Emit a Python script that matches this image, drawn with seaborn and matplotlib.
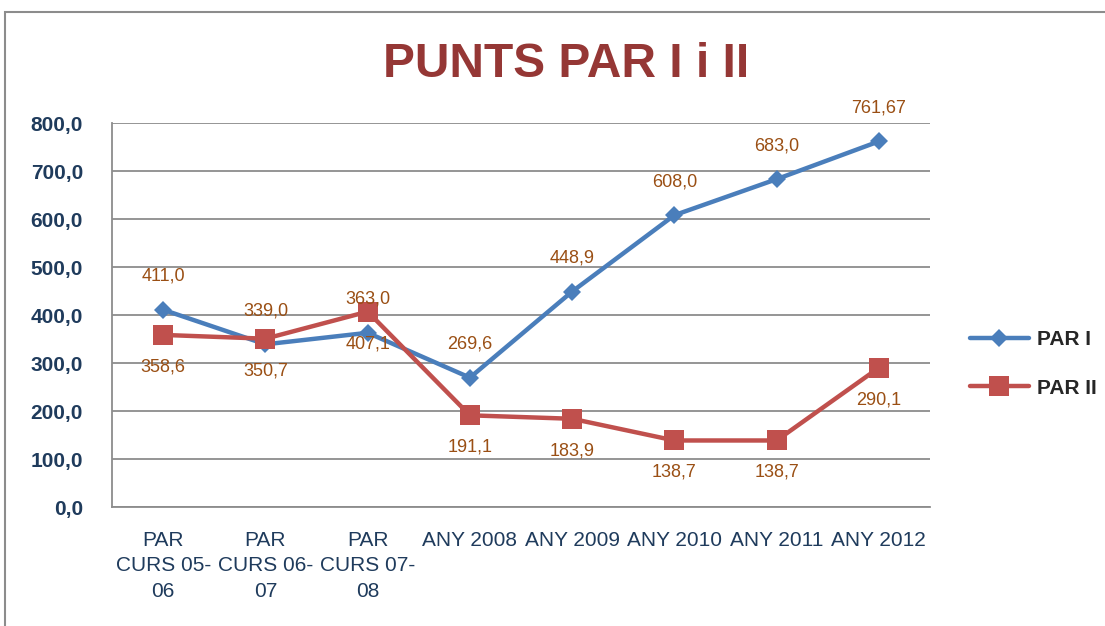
import pandas as pd
import seaborn as sns
import matplotlib.pyplot as plt
from matplotlib.patches import Rectangle

# Data
categories = ['PAR\nCURS 05-\n06', 'PAR\nCURS 06-\n07', 'PAR\nCURS 07-\n08',
              'ANY 2008', 'ANY 2009', 'ANY 2010', 'ANY 2011', 'ANY 2012']
par1 = [411.0, 339.0, 363.0, 269.6, 448.9, 608.0, 683.0, 761.67]
par2 = [358.6, 350.7, 407.1, 191.1, 183.9, 138.7, 138.7, 290.1]
par1_labels = ['411,0', '339,0', '363,0', '269,6', '448,9', '608,0', '683,0', '761,67']
par2_labels = ['358,6', '350,7', '407,1', '191,1', '183,9', '138,7', '138,7', '290,1']
y_ticks = [0, 100, 200, 300, 400, 500, 600, 700, 800]

df = pd.DataFrame({
    'cat': categories * 2,
    'valor': par1 + par2,
    'serie': ['PAR I'] * len(par1) + ['PAR II'] * len(par2),
})

sns.set_style("white")
plt.rcParams['font.family'] = ['Liberation Sans', 'DejaVu Sans']

navy = '#1f3b5c'
label_col = '#9a4f14'
grid_col = '#8c8c8c'

fig = plt.figure(figsize=(11.05, 6.26), dpi=100)
ax = fig.add_axes([0.1014, 0.190, 0.7402, 0.6135])

sns.lineplot(data=df, x='cat', y='valor', hue='serie', style='serie',
             palette={'PAR I': '#4a7ebb', 'PAR II': '#c0504d'},
             markers={'PAR I': 'D', 'PAR II': 's'}, dashes=False,
             linewidth=3.2, legend=False, sort=False, ax=ax)

for line in ax.get_lines():
    line.set_markeredgewidth(0)
    if line.get_marker() == 'D':
        line.set_markersize(9)
    else:
        line.set_markersize(14)

# data labels
for i, (v, t) in enumerate(zip(par1, par1_labels)):
    ax.annotate(t, (i, v), xytext=(0, 24), textcoords='offset points',
                ha='center', va='center', fontsize=13, color=label_col)
for i, (v, t) in enumerate(zip(par2, par2_labels)):
    ax.annotate(t, (i, v), xytext=(0, -23), textcoords='offset points',
                ha='center', va='center', fontsize=13, color=label_col)

ax.set_ylim(0, 800)
ax.set_xlim(-0.5, len(categories) - 0.5)
ax.set_yticks(y_ticks)
ax.set_yticklabels([f'{v:.1f}'.replace('.', ',') for v in y_ticks],
                   fontsize=15, fontweight='bold', color=navy)
ax.set_xticks(range(len(categories)))
ax.set_xticklabels(categories, fontsize=15, color=navy, linespacing=1.45)
ax.set_xticks([i - 0.5 for i in range(len(categories) + 1)], minor=True)
ax.tick_params(axis='x', which='major', length=0, pad=17)
ax.tick_params(axis='x', which='minor', length=7, width=1.3, color=grid_col, direction='out')
ax.tick_params(axis='y', length=7, width=1.3, color=grid_col, direction='out', pad=14)
ax.set_xlabel('')
ax.set_ylabel('')

ax.yaxis.grid(True, color=grid_col, linewidth=1.3)
ax.xaxis.grid(False)
for s in ['top', 'right']:
    ax.spines[s].set_visible(False)
for s in ['left', 'bottom']:
    ax.spines[s].set_color(grid_col)
    ax.spines[s].set_linewidth(1.3)

fig.text(0.512, 0.897, 'PUNTS PAR I i II', ha='center', va='center',
         fontsize=34.5, fontweight='bold', color='#953735')

handles = ax.get_lines()[:2]
fig.legend(handles, ['PAR I', 'PAR II'], loc='center left',
           bbox_to_anchor=(0.878, 0.4185), frameon=False, borderpad=0,
           borderaxespad=0, handlelength=2.8, handletextpad=0.4,
           labelspacing=1.4, prop={'weight': 'bold', 'size': 15})

# outer chart frame
fig.patches.append(Rectangle((0.0045, -0.1), 1.2, 1.081, transform=fig.transFigure,
                             fill=False, edgecolor='#8c8c8c', linewidth=1.5))

fig.savefig('out.png', dpi=100)
